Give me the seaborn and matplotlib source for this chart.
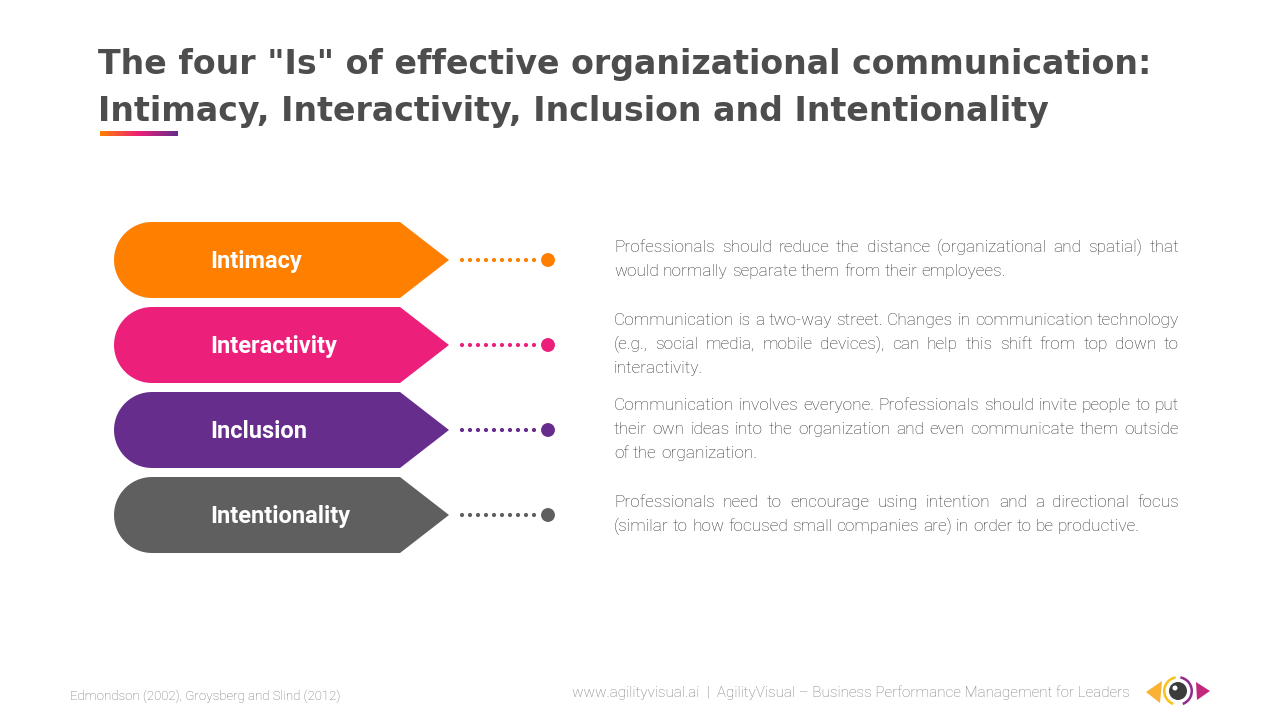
import numpy as np
import matplotlib
matplotlib.use("Agg")
import matplotlib.pyplot as plt
import seaborn as sns
import pandas as pd
from matplotlib.patches import Polygon, Circle, Wedge
from matplotlib.colors import LinearSegmentedColormap

# DATA

title_lines = [
    'The four "Is" of effective organizational communication:',
    'Intimacy, Interactivity, Inclusion and Intentionality',
]

labels = ["Intimacy", "Interactivity", "Inclusion", "Intentionality"]
colors = ["#FF7F00", "#EC1F7A", "#662D8C", "#5F5F5F"]

descriptions = [
    ["Professionals should reduce the distance (organizational and spatial) that",
     "would normally separate them from their employees."],
    ["Communication is a two-way street. Changes in communication technology",
     "(e.g., social media, mobile devices), can help this shift from top down to",
     "interactivity."],
    ["Communication involves everyone. Professionals should invite people to put",
     "their own ideas into the organization and even communicate them outside",
     "of the organization."],
    ["Professionals need to encourage using intention and a directional focus",
     "(similar to how focused small companies are) in order to be productive."],
]
desc_top = [246, 319, 404, 501]

source_text = "Edmondson (2002), Groysberg and Slind (2012)"
footer_text = "www.agilityvisual.ai  |  AgilityVisual \u2013 Business Performance Management for Leaders"

# FIGURE SETUP

sns.set_theme(style="white")
plt.rcParams["font.family"] = ["Roboto", "DejaVu Sans"]

fig = plt.figure(figsize=(12.8, 7.2), dpi=100)
ax = fig.add_axes([0, 0, 1, 1])
ax.set_xlim(0, 1280)
ax.set_ylim(720, 0)
ax.axis("off")
fig.canvas.draw()
renderer = fig.canvas.get_renderer()

# TITLE (sized so the first line spans the same width as the reference)

title_kw = dict(fontweight="bold", family="DejaVu Sans", color="#4D4D4D",
                ha="left", va="baseline")
probe = ax.text(0, 0, title_lines[0], fontsize=24, **title_kw)
title_size = 24 * 1054 / probe.get_window_extent(renderer).width
probe.remove()
for i, line in enumerate(title_lines):
    ax.text(98, 74 + 47 * i, line, fontsize=title_size, **title_kw)

grad = LinearSegmentedColormap.from_list("g", ["#FF7F00", "#EC1F7A", "#662D8C"])
ax.imshow(np.linspace(0, 1, 100).reshape(1, -1), cmap=grad, aspect="auto",
          extent=(100, 178, 136, 131), zorder=2)

# ARROW SHAPES

row_y = [260 + 85 * i for i in range(len(labels))]
half_h = 38
x_left, x_flat_end, x_tip = 114, 400, 449

for y, lab, col in zip(row_y, labels, colors):
    theta = np.linspace(np.pi / 2, 3 * np.pi / 2, 40)
    pts = np.vstack([[[x_flat_end, y - half_h]],
                     np.column_stack([x_left + half_h + half_h * np.cos(theta),
                                      y - half_h * np.sin(theta)]),
                     [[x_flat_end, y + half_h], [x_tip, y]]])
    ax.add_patch(Polygon(pts, closed=True, facecolor=col, edgecolor="none"))
    ax.text(210, y + 8, lab, fontsize=17, fontweight="bold", color="white",
            va="baseline", ha="left")

# DOTTED CONNECTORS

dots = []
for y, lab in zip(row_y, labels):
    for k in range(10):
        dots.append({"x": 462 + 8 * k, "y": y, "item": lab, "size": 9})
    dots.append({"x": 548, "y": y, "item": lab, "size": 100})
dots = pd.DataFrame(dots)
sns.scatterplot(data=dots, x="x", y="y", hue="item", size="size",
                sizes=(9, 100), palette=dict(zip(labels, colors)),
                marker="o", linewidth=0, legend=False, ax=ax, zorder=3)
ax.set_xlim(0, 1280)
ax.set_ylim(720, 0)
ax.axis("off")

# JUSTIFIED DESCRIPTIONS

x0, x1 = 614, 1179
txt_kw = dict(fontsize=12.45, fontweight="light", color="#333333",
              va="baseline", ha="left")


def text_width(s):
    t = ax.text(0, 0, s, **txt_kw)
    w = t.get_window_extent(renderer).width
    t.remove()
    return w


space_w = text_width("a b") - text_width("ab")

for lines, top in zip(descriptions, desc_top):
    for j, line in enumerate(lines):
        y = top + 24 * j + 6
        words = line.split(" ")
        widths = [text_width(w) for w in words]
        if j < len(lines) - 1 and len(words) > 1:
            gap = (x1 - x0 - sum(widths)) / (len(words) - 1)
        else:
            gap = space_w
        x = x0
        for w, wd in zip(words, widths):
            ax.text(x, y, w, **txt_kw)
            x += wd + gap

# FOOTER

ax.text(70, 700, source_text, fontsize=9.5, fontweight="light",
        color="#6E6E6E", va="baseline", ha="left")
ax.text(1130, 697, footer_text, fontsize=11.0, fontweight="light",
        color="#7A7A7A", va="baseline", ha="right")

# LOGO
cx, cy = 1178, 691
ax.add_patch(Polygon([[1146, 692], [1162, 681], [1160, 703]], closed=True,
                     facecolor="#F9B233", edgecolor="none"))
ax.add_patch(Polygon([[1210, 691], [1196, 682], [1197, 700]], closed=True,
                     facecolor="#C2297D", edgecolor="none"))
ax.add_patch(Wedge((cx, cy), 15, 110, 260, width=2.5, facecolor="#F7C21A", edgecolor="none"))
ax.add_patch(Wedge((cx, cy), 15, -80, 70, width=2.5, facecolor="#8E2C8E", edgecolor="none"))
ax.add_patch(Circle((cx, cy), 9, facecolor="#3C3C3C", edgecolor="none"))
ax.add_patch(Circle((cx - 3, cy - 3), 2.5, facecolor="white", edgecolor="none"))

fig.savefig("out.png", dpi=100, facecolor="white")
